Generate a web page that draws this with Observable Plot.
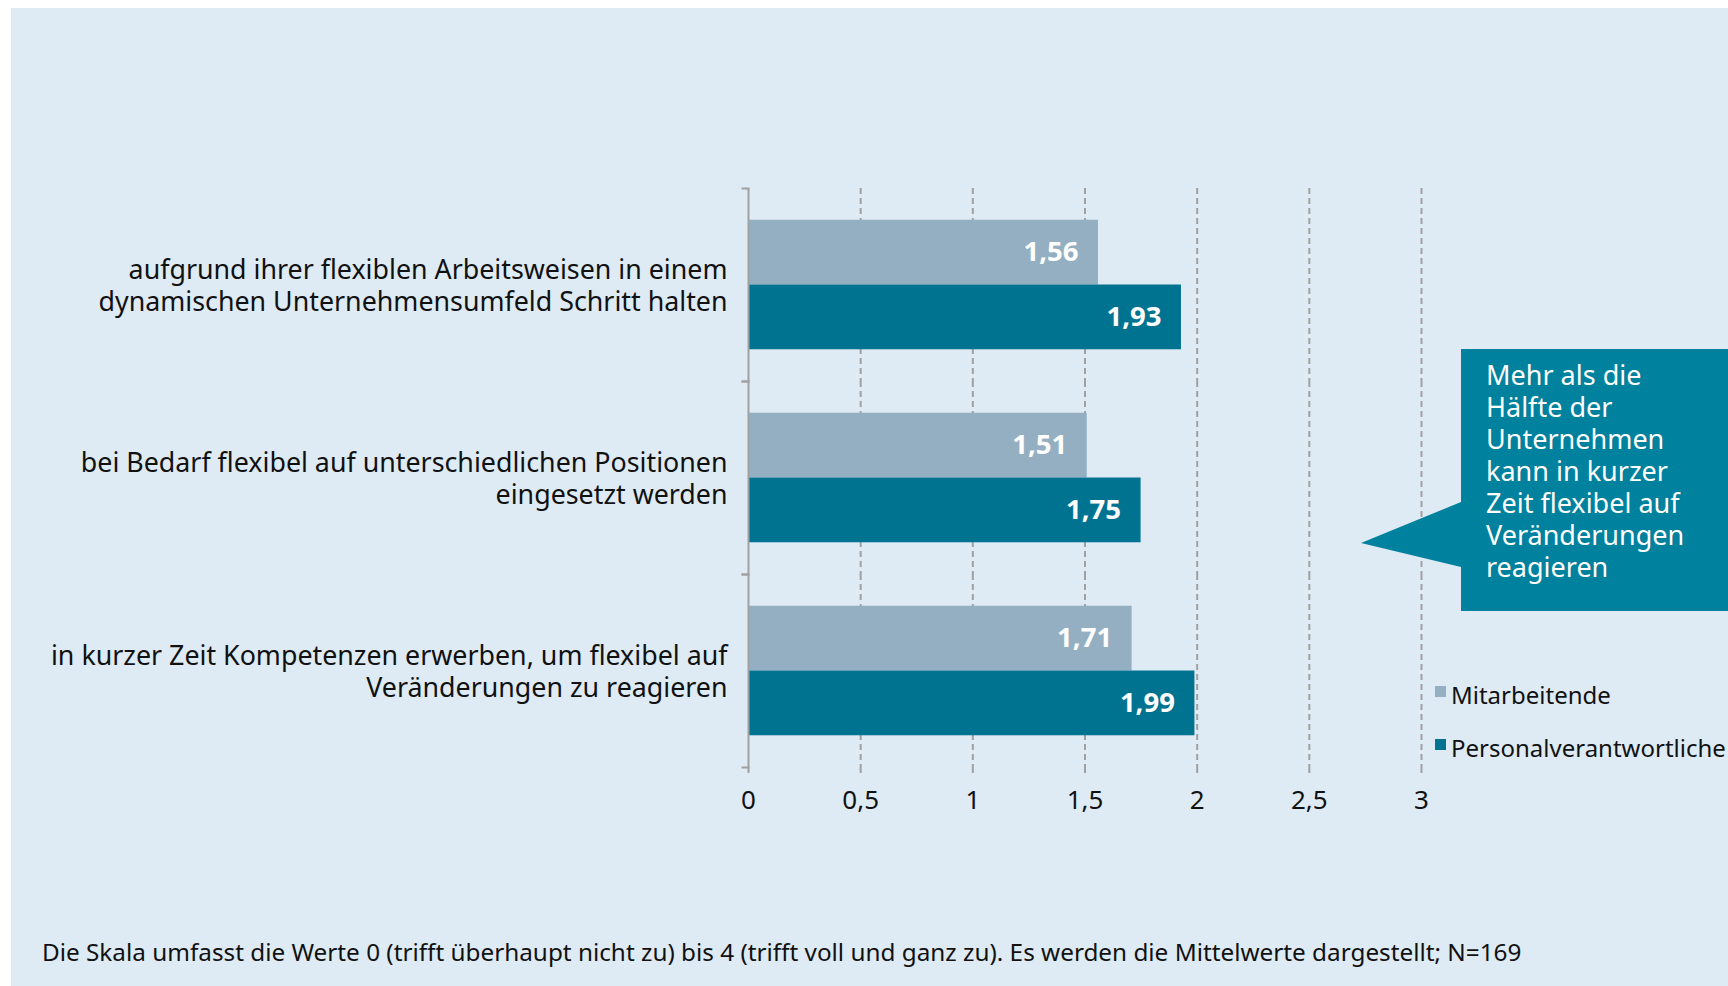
<!DOCTYPE html>
<html>
<head>
<meta charset="utf-8">
<script src="https://cdn.jsdelivr.net/npm/d3@7"></script>
<script src="https://cdn.jsdelivr.net/npm/@observablehq/plot@0.6"></script>
<style>
  html, body { margin: 0; padding: 0; background: #ffffff; }
  body { width: 1728px; height: 986px; position: relative; overflow: hidden; font-family: "Noto Sans", "Open Sans", sans-serif; }
  #panel { position: absolute; left: 11px; top: 8px; width: 1717px; height: 978px; background: #deebf5; }
  #chart { position: absolute; left: 0; top: 0; }
  #callout { position: absolute; left: 1461px; top: 349px; width: 267px; height: 262px; background: #00819e; color: #fff;
             font-size: 27px; line-height: 32px; box-sizing: border-box; padding: 10px 0 0 25px; white-space: nowrap; }
  #pointer { position: absolute; left: 1360px; top: 500px; }
  .legend { position: absolute; left: 1435px; font-size: 24px; color: #111; display: flex; align-items: center; white-space: nowrap; }
  .legend .sw { width: 11px; height: 11px; margin-right: 5px; margin-top: -6px; }
  #note { position: absolute; left: 42px; top: 935px; font-size: 24.3px; color: #111; white-space: nowrap; }
</style>
</head>
<body>
<div id="panel"></div>
<div id="chart"></div>
<svg id="pointer" width="102" height="70"><polygon points="1,43 101,2 101,67" fill="#00819e"/></svg>
<div id="callout"></div>
<div id="legend"></div>
<div id="note"></div>
<script>
// ---- data ----
const categories = [
  "aufgrund ihrer flexiblen Arbeitsweisen in einem\ndynamischen Unternehmensumfeld Schritt halten",
  "bei Bedarf flexibel auf unterschiedlichen Positionen\neingesetzt werden",
  "in kurzer Zeit Kompetenzen erwerben, um flexibel auf\nVeränderungen zu reagieren"
];
const seriesNames = ["Mitarbeitende", "Personalverantwortliche"];
const mitarbeitende = [1.56, 1.51, 1.71];
const personalverantwortliche = [1.93, 1.75, 1.99];
const xTicks = [0, 0.5, 1, 1.5, 2, 2.5, 3];
const seriesColors = ["#94afc1", "#007391"];
const calloutText = ["Mehr als die", "Hälfte der", "Unternehmen", "kann in kurzer", "Zeit flexibel auf", "Veränderungen", "reagieren"];
const noteText = "Die Skala umfasst die Werte 0 (trifft überhaupt nicht zu) bis 4 (trifft voll und ganz zu). Es werden die Mittelwerte dargestellt; N=169";

const rows = [];
categories.forEach((c, i) => {
  rows.push({category: c, series: seriesNames[0], value: mitarbeitende[i]});
  rows.push({category: c, series: seriesNames[1], value: personalverantwortliche[i]});
});
const fmt = d => String(d).replace(".", ",");
const axisGray = "#a0a0a0";

const chart = Plot.plot({
  width: 1728,
  height: 840,
  marginLeft: 748,
  marginRight: 307,
  marginTop: 187,
  marginBottom: 72,
  style: {fontFamily: "'Noto Sans', 'Open Sans', sans-serif", fontSize: "24px", background: "transparent", color: "#111"},
  x: {domain: [0, 3], ticks: xTicks, tickFormat: fmt, label: null},
  fy: {domain: categories, padding: 0, label: null},
  y: {domain: seriesNames, paddingInner: 0, paddingOuter: 0.49, round: false, axis: null},
  color: {domain: seriesNames, range: seriesColors},
  marks: [
    Plot.ruleX(xTicks.slice(1), {stroke: axisGray, strokeWidth: 2, strokeDasharray: "6,4"}),
    Plot.barX(rows, {x: "value", y: "series", fy: "category", fill: "series"}),
    Plot.text(rows, {x: "value", y: "series", fy: "category", text: d => fmt(d.value),
      textAnchor: "end", dx: -20, fill: "white", fontWeight: "bold", fontSize: 27.5}),
    Plot.ruleX([0], {stroke: axisGray, strokeWidth: 2}),
    Plot.frame({anchor: "top", stroke: axisGray, strokeWidth: 2, insetLeft: -6, insetRight: 673}),
    Plot.frame({anchor: "bottom", stroke: axisGray, strokeWidth: 2, insetLeft: -6, insetRight: 673}),
    Plot.axisX({ticks: xTicks, tickFormat: fmt, tickSize: 6, tickPadding: 17, stroke: axisGray, strokeWidth: 2, fill: "#111", fontSize: 26, label: null, line: true}),
    Plot.axisFy({anchor: "left", tickSize: 0, tickPadding: 21, fontSize: 26.8, lineHeight: 1.2, fill: "#111", label: null})
  ]
});
document.getElementById("chart").appendChild(chart);

document.getElementById("callout").innerHTML = calloutText.join("<br>");
document.getElementById("note").textContent = noteText;

const legend = document.getElementById("legend");
seriesNames.forEach((s, i) => {
  const el = document.createElement("div");
  el.className = "legend";
  el.style.top = (i === 0 ? 678 : 731) + "px";
  el.innerHTML = `<span class="sw" style="background:${seriesColors[i]}"></span><span>${s}</span>`;
  legend.appendChild(el);
});
</script>
</body>
</html>
